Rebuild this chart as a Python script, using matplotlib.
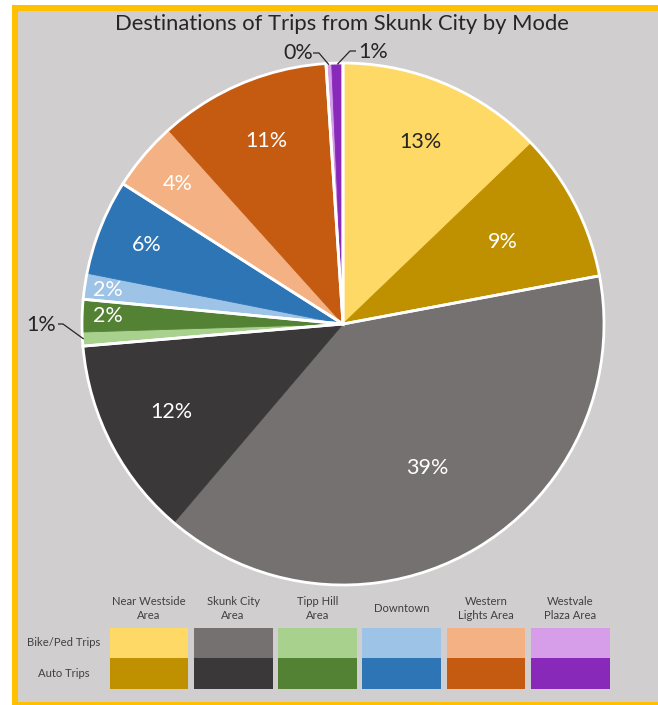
import matplotlib
matplotlib.use("Agg")
import matplotlib.pyplot as plt
from matplotlib.patches import Rectangle
import numpy as np

plt.rcParams['font.family'] = ['Lato', 'DejaVu Sans']

# ---- data ----
areas = ["Near Westside\nArea", "Skunk City\nArea", "Tipp Hill\nArea",
         "Downtown", "Western\nLights Area", "Westvale\nPlaza Area"]
modes = ["Bike/Ped Trips", "Auto Trips"]
bike_share = [12.8, 39.1, 0.86, 1.6, 4.3, 0.35]
auto_share = [9.2, 12.4, 2.0, 5.9, 10.6, 0.69]
bike_colors = ["#FFD966", "#767171", "#A9D18E", "#9DC3E6", "#F4B183", "#D69DE8"]
auto_colors = ["#BF9000", "#3A3838", "#548235", "#2E75B6", "#C55A11", "#8829B9"]
title = "Destinations of Trips from Skunk City by Mode"

# interleave: bike then auto for each area (clockwise from 12 o'clock)
values, colors = [], []
for b, a, cb, ca in zip(bike_share, auto_share, bike_colors, auto_colors):
    values += [b, a]
    colors += [cb, ca]
values = np.array(values)
group_tot = np.array(bike_share) + np.array(auto_share)
pct = values / values.sum() * 100
labels = [f"{round(p):.0f}%" for p in pct]

W, H = 658, 705
fig = plt.figure(figsize=(W / 100, H / 100), dpi=100)
fig.patch.set_facecolor("white")

# background axes in pixel coords
bg = fig.add_axes([0, 0, 1, 1], zorder=0)
bg.set_xlim(0, W)
bg.set_ylim(H, 0)
bg.axis("off")
bg.add_patch(Rectangle((12, 5), W, 700, facecolor="#FFC000", edgecolor="none"))
bg.add_patch(Rectangle((18, 11), W, 691, facecolor="#D0CECE", edgecolor="none"))

bg.text(342, 24, title, ha="center", va="center", fontsize=15.8, color="#262626")

# legend table
col_x0, pitch, cw = 109.5, 84.3, 78.7
row_y = [627.7, 657.7]
row_h = [30, 31]
for i, name in enumerate(areas):
    x = col_x0 + i * pitch
    bg.add_patch(Rectangle((x, row_y[0]), cw, row_h[0], facecolor=bike_colors[i], edgecolor="none"))
    bg.add_patch(Rectangle((x, row_y[1]), cw, row_h[1], facecolor=auto_colors[i], edgecolor="none"))
    bg.text(x + cw / 2, 608.5, name, ha="center", va="center", fontsize=8.1,
            color="#404040", linespacing=1.35)
for j, m in enumerate(modes):
    bg.text(64, row_y[j] + row_h[j] / 2, m, ha="center", va="center",
            fontsize=8.1, color="#404040")

# pie axes
cx, cy, R = 343, 324, 261
ax = fig.add_axes([(cx - R) / W, 1 - (cy + R) / H, 2 * R / W, 2 * R / H], zorder=1)

wedges, _ = ax.pie(values, colors=colors, startangle=90, counterclock=False,
                   radius=1.0, wedgeprops=dict(linewidth=0.6))
for w in wedges:
    w.set_edgecolor(w.get_facecolor())
# white separators between areas and around the rim
ax.pie(group_tot, colors=["none"] * len(group_tot), startangle=90, counterclock=False,
       radius=1.0, wedgeprops=dict(linewidth=2.0, edgecolor="white", facecolor="none"))
ax.set_xlim(-1, 1)
ax.set_ylim(-1, 1)
ax.set_aspect("equal")
ax.axis("off")

label_r = [0.76, 0.69, 0.64, 0.74, None, 0.90, 0.91, 0.81, 0.83, 0.76, None, None]
label_col = ["#262626", "white", "white", "white", None, "white", "white",
             "white", "white", "white", None, None]

def mid(w):
    return np.deg2rad((w.theta1 + w.theta2) / 2)

for i, w in enumerate(wedges):
    if label_r[i] is None:
        continue
    a = mid(w)
    ax.text(label_r[i] * np.cos(a), label_r[i] * np.sin(a), labels[i],
            ha="center", va="center", fontsize=15.5, color=label_col[i])

def px(x, y):
    return (x - cx) / R, (cy - y) / R

# outside labels with leader lines
outside = {4: ((41, 325), (58, 324), (63, 324)),
           10: ((298, 53), (313, 53), (319, 53)),
           11: ((373, 52), (356, 51), (350, 51))}
for i, (tpos, l0, l1) in outside.items():
    a = mid(wedges[i])
    ex, ey = 0.995 * np.cos(a), 0.995 * np.sin(a)
    tx, ty = px(*tpos)
    ax.text(tx, ty, labels[i], ha="center", va="center", fontsize=15.5,
            color="#262626", clip_on=False)
    p0, p1 = px(*l0), px(*l1)
    ax.plot([p0[0], p1[0], ex], [p0[1], p1[1], ey], color="#262626",
            lw=0.9, clip_on=False, solid_capstyle="butt")

fig.savefig("out.png", dpi=100, facecolor=fig.get_facecolor())
